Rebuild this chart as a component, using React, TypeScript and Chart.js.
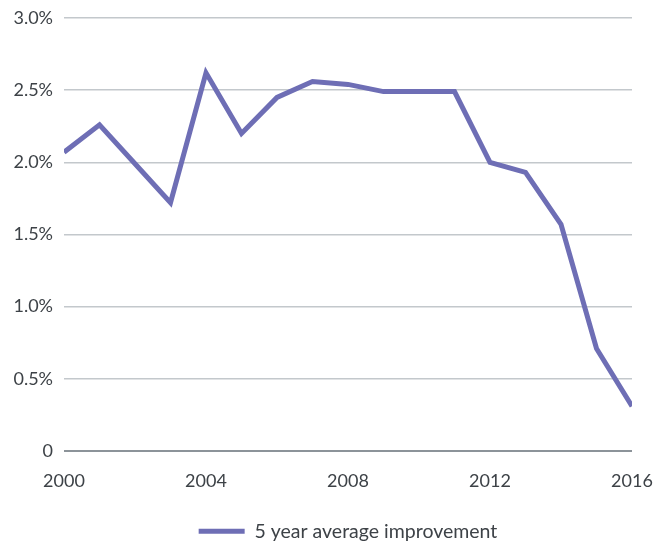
import React, { useEffect, useRef } from "react";
import { Chart, registerables } from "chart.js";

Chart.register(...registerables);

// Years on the x axis and the 5-year average improvement (in %) for each
const years = [2000, 2001, 2002, 2003, 2004, 2005, 2006, 2007, 2008, 2009, 2010, 2011, 2012, 2013, 2014, 2015, 2016];
const improvement = [2.07, 2.26, 1.99, 1.72, 2.62, 2.2, 2.45, 2.56, 2.54, 2.49, 2.49, 2.49, 2.0, 1.93, 1.57, 0.71, 0.31];
const seriesLabel = "5 year average improvement";
const yTicks = [0, 0.5, 1.0, 1.5, 2.0, 2.5, 3.0];
const xTicks = [2000, 2004, 2008, 2012, 2016];

const LINE_COLOR = "#6e6eb5";
const TEXT_COLOR = "#3d4247";
const FAMILY = "Lato, 'Open Sans', sans-serif";
const FONT = { family: FAMILY, size: 18 };

export default function App() {
  const canvasRef = useRef<HTMLCanvasElement | null>(null);

  useEffect(() => {
    if (!canvasRef.current) return;
    const chart = new Chart(canvasRef.current, {
      type: "line",
      data: {
        datasets: [
          {
            label: seriesLabel,
            data: years.map((y, i) => ({ x: y, y: improvement[i] })),
            borderColor: LINE_COLOR,
            backgroundColor: LINE_COLOR,
            borderWidth: 5,
            pointRadius: 0,
            tension: 0,
            fill: false,
          },
        ],
      },
      options: {
        responsive: false,
        animation: false,
        layout: { padding: { top: 18, right: 34, left: 0, bottom: 0 } },
        plugins: {
          tooltip: { enabled: false },
          legend: {
            position: "bottom",
            fullSize: false,
            labels: {
              boxWidth: 46,
              boxHeight: 5,
              padding: 10,
              color: TEXT_COLOR,
              font: { family: FAMILY, size: 19.5 },
              generateLabels: (c) =>
                c.data.datasets.map((ds, i) => ({
                  text: ds.label as string,
                  fillStyle: LINE_COLOR,
                  strokeStyle: LINE_COLOR,
                  lineWidth: 0,
                  hidden: false,
                  datasetIndex: i,
                  fontColor: TEXT_COLOR,
                })),
            },
          },
        },
        scales: {
          x: {
            type: "linear",
            min: 2000,
            max: 2016,
            afterBuildTicks: (scale) => {
              scale.ticks = xTicks.map((v) => ({ value: v }));
            },
            afterFit: (scale: any) => {
              scale.height = 60.5;
              // outer margins come from layout.padding only
              scale.paddingLeft = 0;
              scale.paddingRight = 0;
            },
            grid: { display: false, drawTicks: false },
            border: { display: false },
            ticks: {
              color: TEXT_COLOR,
              font: FONT,
              padding: 19.5,
              maxRotation: 0,
              autoSkip: false,
              callback: (v) => String(v),
            },
          },
          y: {
            min: 0,
            max: 3,
            afterBuildTicks: (scale) => {
              scale.ticks = yTicks.map((v) => ({ value: v }));
            },
            afterFit: (scale: any) => {
              scale.width = 64;
              scale.paddingTop = 0;
              scale.paddingBottom = 0;
            },
            border: { display: false },
            grid: {
              drawTicks: false,
              color: (ctx) => (ctx.tick && ctx.tick.value === 0 ? "#8c9399" : "#c3c8cc"),
              lineWidth: (ctx) => (ctx.tick && ctx.tick.value === 0 ? 2 : 1.5),
            },
            ticks: {
              color: TEXT_COLOR,
              font: FONT,
              padding: 11,
              callback: (v) => (Number(v) === 0 ? "0" : Number(v).toFixed(1) + "%"),
            },
          },
        },
      },
    });
    return () => chart.destroy();
  }, []);

  return (
    <div style={{ position: "fixed", left: 0, top: 0, width: 666, height: 545, overflow: "hidden", background: "#fff" }}>
      <canvas ref={canvasRef} width={666} height={551} />
    </div>
  );
}
